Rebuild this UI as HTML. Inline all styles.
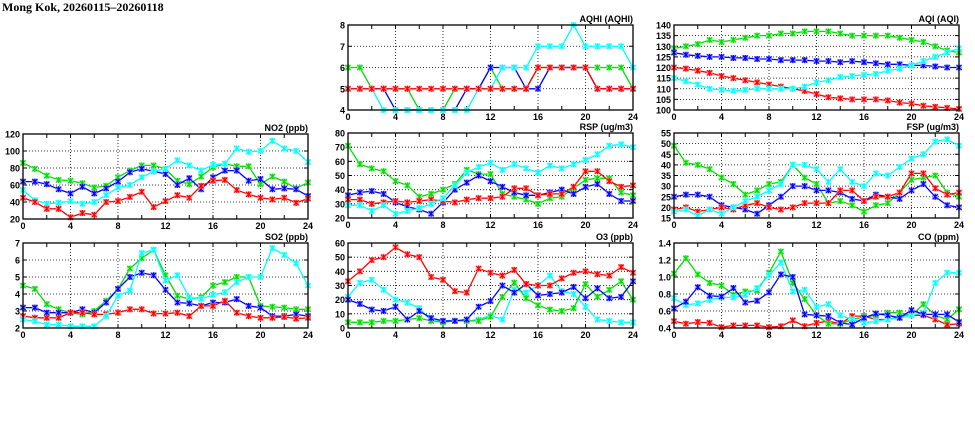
<!DOCTYPE html>
<html><head><meta charset="utf-8"><style>
html,body{margin:0;padding:0;background:#fff;}
svg{display:block;}
text{font-family:"Liberation Sans",sans-serif;font-weight:bold;fill:#000;}
</style></head><body>
<svg id="s" width="975" height="447" xmlns="http://www.w3.org/2000/svg">
<text x="2" y="11" font-size="12" style="font-family:'Liberation Serif',serif">Mong Kok, 20260115–20260118</text>
</svg>
<script>
var NS="http://www.w3.org/2000/svg",S=document.getElementById('s');
function el(t,a,txt){var e=document.createElementNS(NS,t);for(var k in a)e.setAttribute(k,a[k]);if(txt!=null)e.textContent=txt;S.appendChild(e);return e;}
var C={r:"#ff0000",g:"#00dd00",b:"#0000ff",c:"#00ffff"};
var H={r:"#ff9999",g:"#99ee99",b:"#9999ff",c:"#99ffff"};
var P=[
{t:"AQHI (AQHI)",x:348,y:25,min:4,max:8,st:1,d:{
g:[6,6,5,5,5,5,4,4,4,5,5,5,6,5,5,5,6,6,6,6,6,6,6,6,5],
b:[5,5,5,5,4,4,4,4,4,4,5,5,6,6,6,5,5,6,6,6,6,5,5,5,5],
c:[5,5,5,4,4,4,4,4,4,4,4,5,5,6,6,6,7,7,7,8,7,7,7,7,6],
r:[5,5,5,5,5,5,5,5,5,5,5,5,5,5,5,5,6,6,6,6,6,5,5,5,5]}},
{t:"AQI (AQI)",x:674,y:25,min:100,max:140,st:5,d:{
g:[129,130,131,133,132,133,134,135,135,136,136,137,137,137,136,135,135,135,135,134,133,132,130,128,127],
b:[127,126,125.5,125,125,124.5,124.5,124,124,123.5,123.5,123.5,123,123,122.5,123,122.5,122,121.5,121.5,121,121,120.5,120,120],
r:[120,119.5,118.5,117.5,116,115,114,113,112,111,110,109,107.5,106,105.5,105,105,105,104.5,103.5,103,102,101.5,101,100.5],
c:[115,113.5,112,110,109.5,109,109.5,110,110,110,110,111,113,114,115.5,116,116.5,117,118.5,119.5,121,123,125,127,129]}},
{t:"NO2 (ppb)",x:23,y:134,min:20,max:120,st:20,d:{
g:[86,79,71,66,65,62,57,59,69,77,83,83,79,65,61,70,81,85,82,82,61,70,64,56,63],
b:[64,64,61,55,50,58,50,56,64,75,79,76,73,60,68,55,69,77,77,65,67,55,56,55,47],
c:[54,42,38,39,41,38,40,48,57,60,69,76,79,89,83,77,84,85,103,99,100,112,103,100,87],
r:[45,40,32,32,22,27,25,40,41,46,52,34,41,48,45,59,65,66,54,49,45,43,45,39,44]}},
{t:"RSP (ug/m3)",x:348,y:133,min:20,max:80,st:10,d:{
g:[71,58,55,53,46,43,35,37,40,44,54,51,51,37,35,33,30,34,35,41,47,48,48,38,36],
b:[36,38,39,37,31,28,26,23,31,40,45,50,46,42,38,36,36,38,40,37,42,44,37,32,32],
r:[33,33,30,31,32,31,32,33,32,31,33,34,34,35,41,41,36,37,37,42,53,53,46,42,43],
c:[29,29,25,29,23,25,27,30,34,43,52,56,59,54,58,55,52,57,55,58,61,65,71,72,70]}},
{t:"FSP (ug/m3)",x:674,y:133,min:15,max:55,st:5,d:{
g:[49,41,40,38,34,31,26,28,31,32,40,34,31,22,23,21,18,21,22,27,33,34,35,27,25],
b:[25,26,26,25,21,20,19,17,21,25,30,30,28,28,27,24,23,26,25,24,28,31,25,21,20],
r:[19,20,18,19,20,19,21,22,20,19,20,22,22,22,28,28,23,25,25,27,36,36,29,26,27],
c:[18,19,16,19,17,20,23,25,28,31,40,40,38,32,38,32,30,36,35,39,43,45,51,52,49]}},
{t:"SO2 (ppb)",x:23,y:243,min:2,max:7,st:1,d:{
g:[4.5,4.3,3.4,3.1,2.9,2.8,3.0,3.6,4.3,5.5,6.1,6.6,5.1,3.9,3.7,3.8,4.5,4.7,5.0,5.0,3.3,3.25,3.2,3.1,3.1],
b:[3.2,3.2,2.9,2.9,2.9,3.1,2.9,3.5,4.3,5.0,5.25,5.1,4.25,3.5,3.45,3.3,3.5,3.5,3.7,3.3,3.2,2.7,2.7,2.8,2.7],
r:[2.7,2.6,2.6,2.6,2.9,2.9,2.8,2.8,2.9,3.1,3.1,2.85,2.85,2.9,2.7,3.3,3.3,3.6,2.9,2.7,2.6,2.6,2.65,2.55,2.6],
c:[2.5,2.4,2.2,2.2,2.1,2.1,2.1,2.7,3.9,4.2,6.4,6.6,4.8,5.1,3.8,3.7,3.95,4.1,4.7,5.0,5.0,6.7,6.3,5.8,4.5]}},
{t:"O3 (ppb)",x:348,y:243,min:0,max:60,st:10,d:{
c:[22,32,34,27,20,18,14,5,5,5,5,6,9,6,27,25,30,37,26,24,15,6,5,4,4],
g:[4,4,4,5,5,6,7,5,4,5,5,5,8,22,32,21,16,13,12,14,31,22,27,33,20],
b:[20,17,13,12,15,6,12,7,5,5,6,15,19,30,25,31,23,24,25,29,21,28,21,22,33],
r:[33,40,48,50,57,52,50,36,34,26,25,42,39,37,41,31,30,30,35,39,40,38,37,43,39]}},
{t:"CO (ppm)",x:674,y:243,min:0.4,max:1.4,st:0.2,f:1,d:{
r:[0.48,0.45,0.47,0.46,0.41,0.43,0.43,0.43,0.41,0.42,0.49,0.42,0.46,0.48,0.45,0.54,0.54,0.5,0.5,0.53,0.55,0.55,0.5,0.44,0.45],
g:[1.04,1.22,1.03,0.93,0.9,0.79,0.83,0.84,1.05,1.3,0.93,0.74,0.55,0.45,0.45,0.5,0.53,0.55,0.58,0.58,0.55,0.68,0.55,0.5,0.62],
c:[0.75,0.67,0.69,0.73,0.76,0.76,0.79,0.87,1.02,1.17,0.83,0.85,0.65,0.68,0.55,0.5,0.46,0.48,0.5,0.52,0.55,0.58,0.93,1.05,1.05],
b:[0.63,0.71,0.88,0.78,0.77,0.87,0.7,0.72,0.82,1.03,1.0,0.56,0.55,0.54,0.46,0.44,0.52,0.57,0.55,0.52,0.61,0.56,0.56,0.56,0.47]}}
];
var W=285,Hh=85;
P.forEach(function(p){
 var X=function(i){return p.x+i*W/24;},Y=function(v){return p.y+Hh-(v-p.min)/(p.max-p.min)*Hh;};
 for(var h=4;h<24;h+=4)el('line',{x1:X(h),x2:X(h),y1:p.y,y2:p.y+Hh,stroke:"#000","stroke-width":0.8,"stroke-dasharray":"1,2"});
 var n=Math.round((p.max-p.min)/p.st);
 for(var k=0;k<=n;k++){var v=p.min+k*p.st,y=Y(v);
  if(k>0&&k<n)el('line',{x1:p.x,x2:p.x+W,y1:y,y2:y,stroke:"#000","stroke-width":0.8,"stroke-dasharray":"1,2"});
  el('line',{x1:p.x,x2:p.x+4,y1:y,y2:y,stroke:"#000"});el('line',{x1:p.x+W-4,x2:p.x+W,y1:y,y2:y,stroke:"#000"});
  el('text',{x:p.x-3,y:y+3.5,"font-size":9,"text-anchor":"end"},p.f?v.toFixed(1):String(Math.round(v)));}
 for(var h=0;h<=24;h+=2){el('line',{x1:X(h),x2:X(h),y1:p.y+Hh,y2:p.y+Hh-4,stroke:"#000"});el('line',{x1:X(h),x2:X(h),y1:p.y,y2:p.y+4,stroke:"#000"});
  if(h%4==0)el('text',{x:X(h),y:p.y+Hh+10,"font-size":9,"text-anchor":"middle"},String(h));}
 el('text',{x:p.x+W,y:p.y-3,"font-size":9,"text-anchor":"end"},p.t);
 Object.keys(p.d).forEach(function(c){var a=p.d[c],pts=a.map(function(v,i){return X(i).toFixed(1)+","+Y(v).toFixed(1);}).join(" ");
  el('polyline',{points:pts,fill:"none",stroke:C[c],"stroke-width":1.3});
  a.forEach(function(v,i){var x=X(i),y=Y(v);
   el('rect',{x:x-3,y:y-3,width:6,height:6,fill:H[c],opacity:0.8});
   el('path',{d:"M"+(x-2.5)+" "+(y-2.5)+"L"+(x+2.5)+" "+(y+2.5)+"M"+(x+2.5)+" "+(y-2.5)+"L"+(x-2.5)+" "+(y+2.5)+"M"+x+" "+(y-3)+"V"+(y+3),stroke:C[c],"stroke-width":1.2});});
 });
 el('rect',{x:p.x,y:p.y,width:W,height:Hh,fill:"none",stroke:"#000","stroke-width":1.3});
});
</script>
</body></html>
